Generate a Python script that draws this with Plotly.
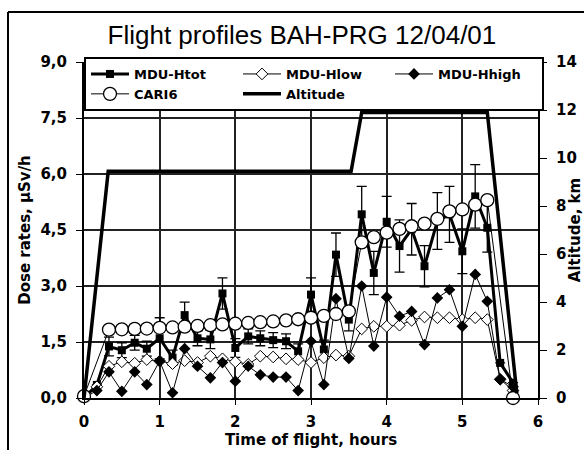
import plotly.graph_objects as go

# ---- data ----
hours = [0.00, 0.17, 0.33, 0.50, 0.67, 0.83, 1.00, 1.17, 1.33, 1.50, 1.67, 1.83,
         2.00, 2.17, 2.33, 2.50, 2.67, 2.83, 3.00, 3.17, 3.33, 3.50, 3.67, 3.83,
         4.00, 4.17, 4.33, 4.50, 4.67, 4.83, 5.00, 5.17, 5.33, 5.50, 5.67]

mdu_htot = [0.00, 0.35, 1.38, 1.28, 1.48, 1.32, 1.60, 1.08, 2.22, 1.60, 1.57, 2.80,
            1.34, 1.65, 1.60, 1.55, 1.52, 1.25, 2.77, 1.30, 3.84, 2.10, 4.92, 3.35,
            4.72, 4.07, 4.52, 3.53, 4.74, 4.92, 3.93, 5.40, 4.56, 0.94, 0.41]
mdu_htot_err = [0, 0, 0.25, 0.20, 0.20, 0.20, 0.55, 0.20, 0.35, 0.20, 0.25, 0.42,
                0.25, 0.20, 0.20, 0.20, 0.20, 0.20, 0.45, 0.25, 0.58, 0.30, 0.75, 0.58,
                0.68, 0.70, 0.69, 0.55, 0.76, 0.75, 0.60, 0.85, 0.65, 0, 0]
mdu_hlow = [0.05, 0.30, 0.85, 0.97, 0.93, 1.03, 0.99, 0.92, 1.00, 0.95, 1.12, 1.05,
            0.97, 0.90, 1.12, 1.10, 1.05, 1.03, 0.95, 1.08, 1.15, 1.12, 1.85, 1.92,
            1.92, 1.95, 2.08, 2.17, 2.15, 2.15, 2.10, 2.15, 2.10, 0.50, 0.20]
mdu_hhigh = [0.00, 0.20, 0.70, 0.18, 0.70, 0.36, 0.99, 0.14, 1.32, 0.85, 0.54, 0.95,
             0.45, 0.85, 0.62, 0.56, 0.56, 0.20, 1.52, 0.36, 2.66, 1.06, 3.00, 1.39,
             2.70, 2.19, 2.32, 1.43, 2.68, 2.90, 1.92, 3.31, 2.59, 0.50, 0.30]
cari6 = [0.05, None, 1.83, 1.84, 1.85, 1.86, 1.88, 1.89, 1.91, 1.93, 1.95, 1.97,
         1.99, 2.01, 2.03, 2.05, 2.08, 2.11, 2.15, 2.20, 2.25, 2.32, 4.17, 4.31,
         4.43, 4.53, 4.60, 4.67, 4.80, 5.00, 5.05, 5.18, 5.30, None, 0.00]

alt_hours = [0.00, 0.16, 0.32, 3.53, 3.67, 5.33, 5.52, 5.72]
altitude_km = [0.0, 4.7, 9.45, 9.45, 11.9, 11.9, 6.2, 0.2]

# ---- figure ----
FONT = "DejaVu Sans"
fig = go.Figure()

fig.add_trace(go.Scatter(
    x=hours, y=mdu_htot, name="MDU-Htot", mode="lines+markers",
    line=dict(color="black", width=3),
    marker=dict(symbol="square", size=8, color="black"),
    error_y=dict(type="data", array=mdu_htot_err, color="black", thickness=1.3, width=5),
    cliponaxis=False))
fig.add_trace(go.Scatter(
    x=hours, y=mdu_hlow, name="MDU-Hlow", mode="lines+markers",
    line=dict(color="black", width=1),
    marker=dict(symbol="diamond", size=9, color="white", line=dict(color="black", width=1)),
    cliponaxis=False))
fig.add_trace(go.Scatter(
    x=hours, y=mdu_hhigh, name="MDU-Hhigh", mode="lines+markers",
    line=dict(color="black", width=1),
    marker=dict(symbol="diamond", size=9, color="black"),
    cliponaxis=False))
fig.add_trace(go.Scatter(
    x=hours, y=cari6, name="CARI6", mode="lines+markers", connectgaps=True,
    line=dict(color="black", width=1),
    marker=dict(symbol="circle", size=13, color="white", line=dict(color="black", width=1.3)),
    cliponaxis=False))
fig.add_trace(go.Scatter(
    x=alt_hours, y=altitude_km, name="Altitude", mode="lines", yaxis="y2",
    line=dict(color="black", width=3.5)))

tickf = dict(family=FONT, size=15, color="black", weight="bold")
titf = dict(family=FONT, size=15, color="black", weight="bold")

fig.update_layout(
    width=584, height=450,
    margin=dict(l=84, r=46, t=62, b=52, autoexpand=False),
    paper_bgcolor="white", plot_bgcolor="white",
    separators=",.",
    font=dict(family=FONT, color="black"),
    title=dict(text="Flight profiles BAH-PRG 12/04/01",
               font=dict(family="Liberation Sans", size=26, color="black"),
               x=0.517, xanchor="center", y=1 - 35 / 450, yanchor="middle"),
    legend=dict(orientation="h", x=0, y=1 + 5 / 336, xanchor="left", yanchor="top",
                bgcolor="white", bordercolor="black", borderwidth=2,
                font=dict(family=FONT, size=13, color="black", weight="bold"),
                itemwidth=38, entrywidth=99, tracegroupgap=0),
    xaxis=dict(range=[0, 6], tick0=0, dtick=1, showgrid=True, gridcolor="#222",
               gridwidth=1.5, zeroline=False, showline=True, linecolor="black",
               linewidth=2, ticks="outside", ticklen=5, tickcolor="black",
               tickfont=tickf, ticklabelstandoff=4, automargin=False,
               title=dict(text="Time of flight, hours", font=titf, standoff=4)),
    yaxis=dict(range=[0, 9], tick0=0, dtick=1.5, tickformat=".1f", showgrid=True,
               gridcolor="#222", gridwidth=1.5, zeroline=False, showline=True,
               linecolor="black", linewidth=2, ticks="outside", ticklen=6,
               tickcolor="black", tickfont=tickf, ticklabelstandoff=6, automargin=False,
               title=dict(text="Dose rates, μSv/h", font=titf, standoff=6)),
    yaxis2=dict(range=[0, 14], tick0=0, dtick=2, overlaying="y", side="right",
                showgrid=False, zeroline=False, showline=True, linecolor="black",
                linewidth=2, ticks="outside", ticklen=7, tickcolor="black",
                tickfont=tickf, ticklabelstandoff=6, automargin=False,
                title=dict(text="Altitude, km", font=titf, standoff=6)),
    shapes=[
        dict(type="line", xref="paper", yref="paper",
             x0=(8 - 84) / 454, x1=(600 - 84) / 454,
             y0=(398 - 12) / 336, y1=(398 - 12) / 336,
             line=dict(color="black", width=2)),
        dict(type="line", xref="paper", yref="paper",
             x0=(8 - 84) / 454, x1=(8 - 84) / 454,
             y0=(398 - 12) / 336, y1=(398 - 470) / 336,
             line=dict(color="black", width=2)),
    ],
)

fig.write_html("out.html")
